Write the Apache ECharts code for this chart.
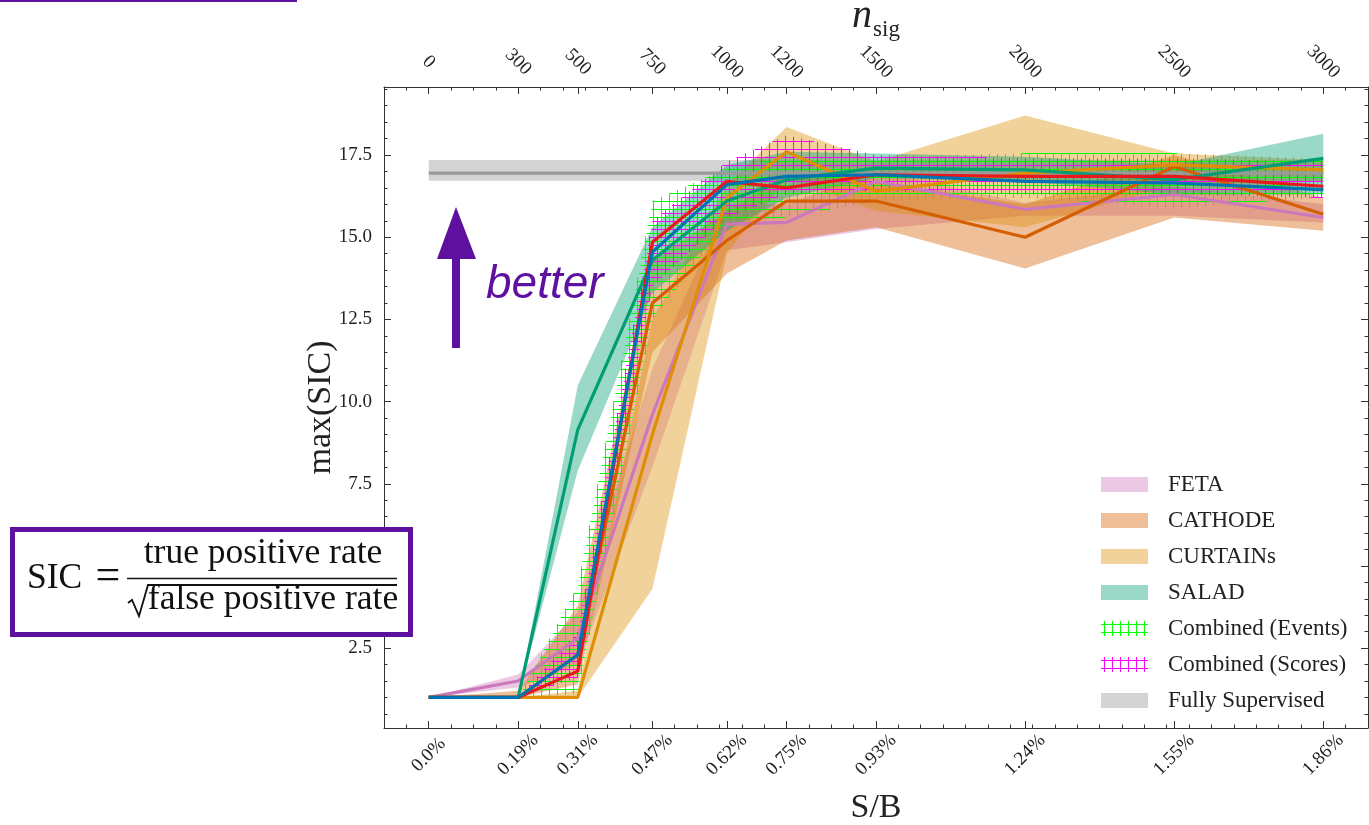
<!DOCTYPE html>
<html><head><meta charset="utf-8">
<script src="https://cdn.jsdelivr.net/npm/echarts@6/dist/echarts.min.js"></script>
<style>html,body{margin:0;padding:0;background:#fff}#c{width:1369px;height:825px}</style>
</head><body><div id="c"></div>
<script>
// ---------- data ----------
const nsig = [0, 300, 500, 750, 1000, 1200, 1500, 2000, 2500, 3000];
const sbLabels = ['0.0%', '0.19%', '0.31%', '0.47%', '0.62%', '0.75%', '0.93%', '1.24%', '1.55%', '1.86%'];
const yTicks = [2.5, 5.0, 7.5, 10.0, 12.5, 15.0, 17.5];
const yMinorTicks = [0.5, 1.0, 1.5, 2.0, 3.0, 3.5, 4.0, 4.5, 5.5, 6.0, 6.5, 7.0, 8.0, 8.5, 9.0, 9.5,
  10.5, 11.0, 11.5, 12.0, 13.0, 13.5, 14.0, 14.5, 15.5, 16.0, 16.5, 17.0, 18.0, 18.5, 19.0, 19.5];

const fetaMean = [1.0, 1.5, 2.8, 9.6, 15.4, 15.45, 16.7, 15.85, 16.3, 15.6];
const fetaLow  = [1.0, 1.3, 2.0, 8.0, 14.6, 14.85, 15.25, 15.65, 15.65, 15.45];
const fetaHigh = [1.0, 1.7, 3.6, 11.0, 16.0, 16.0, 17.0, 16.05, 16.55, 16.0];

const cathodeMean = [1.0, 1.0, 2.3, 13.0, 14.9, 16.1, 16.1, 15.0, 17.15, 15.7];
const cathodeLow  = [1.0, 1.0, 1.4, 11.5, 13.9, 14.9, 15.3, 14.05, 15.6, 15.2];
const cathodeHigh = [1.0, 1.2, 3.8, 14.3, 15.8, 16.9, 16.7, 16.0, 17.5, 16.2];

const curtainsMean = [1.0, 1.0, 1.0, 9.0, 16.2, 17.6, 16.4, 16.95, 17.2, 17.05];
const curtainsLow  = [1.0, 1.0, 1.0, 4.3, 14.5, 16.8, 15.8, 15.3, 16.6, 16.7];
const curtainsHigh = [1.0, 1.0, 1.2, 12.5, 16.6, 18.35, 17.3, 18.7, 17.55, 17.35];

const saladMean = [1.0, 1.0, 9.15, 14.3, 16.1, 16.75, 17.1, 17.05, 16.75, 17.4];
const saladLow  = [1.0, 1.0, 7.9, 13.3, 15.2, 16.2, 16.8, 16.7, 16.3, 16.3];
const saladHigh = [1.0, 1.0, 10.5, 15.3, 17.2, 17.6, 17.55, 17.45, 17.2, 18.15];

const eventsMean = [1.0, 1.0, 1.8, 14.85, 16.7, 16.5, 16.9, 16.85, 16.85, 16.55];
const eventsLow  = [1.0, 1.0, 1.1, 12.5, 15.4, 15.6, 16.1, 16.2, 15.9, 16.2];
const eventsHigh = [1.0, 1.0, 4.4, 16.1, 17.1, 17.45, 17.45, 17.55, 17.55, 17.4];

const scoresMean = [1.0, 1.0, 2.3, 14.55, 16.6, 16.85, 16.9, 16.7, 16.65, 16.45];
const scoresLow  = [1.0, 1.0, 1.6, 13.5, 15.6, 16.3, 16.4, 16.3, 16.3, 16.2];
const scoresHigh = [1.0, 1.0, 3.0, 15.5, 17.3, 18.1, 17.5, 17.4, 17.4, 17.3];

const fsX = [0, 3000];
const fsMean = [16.95, 16.95];
const fsLow = [16.72, 16.72];
const fsHigh = [17.35, 17.35];

// ---------- styling ----------
const SERIF = '"Liberation Serif", "DejaVu Serif", serif';
const PURPLE = '#5E109F';
const COL = {
  feta: '#CC78BC', cathode: '#D55E00', curtains: '#DE8F05', salad: '#029E73',
  events: '#E8191E', scores: '#0173B2', fs: '#9A9A9A'
};
function rgba(hex, a) {
  const n = parseInt(hex.slice(1), 16);
  return 'rgba(' + ((n >> 16) & 255) + ',' + ((n >> 8) & 255) + ',' + (n & 255) + ',' + a + ')';
}
const HATCH_EVENTS = '#00FF00';
const HATCH_SCORES = '#FF00FF';
const FS_FILL = 'rgba(160,160,160,0.45)';

const XMIN = -150, XMAX = 3150, YMIN = 0.07, YMAX = 19.57;
const GRID = { left: 384, top: 87, width: 984, height: 641 };
const HX = 8 * (XMAX - XMIN) / GRID.width;
const HY = 8 * (YMAX - YMIN) / GRID.height;

function hatchPattern(color) {
  const c = document.createElement('canvas');
  c.width = 8; c.height = 8;
  const g = c.getContext('2d');
  g.strokeStyle = color; g.lineWidth = 1;
  g.beginPath();
  g.moveTo(3.5, 0); g.lineTo(3.5, 8);
  g.moveTo(0, 3.5); g.lineTo(8, 3.5);
  g.stroke();
  return { image: c, repeat: 'repeat' };
}

function bandPoints(params, api) {
  const n = params.dataInsideLength;
  const top = [], bot = [];
  for (let i = 0; i < n; i++) {
    top.push(api.coord([api.value(0, i), api.value(2, i)]));
    bot.push(api.coord([api.value(0, i), api.value(1, i)]));
  }
  return top.concat(bot.reverse());
}
function band(name, xs, low, high, fill, z) {
  return {
    name, type: 'custom', coordinateSystem: 'cartesian2d', z,
    data: xs.map((x, i) => [x, low[i], high[i]]),
    encode: { x: 0, y: [1, 2] },
    renderItem: function (params, api) {
      if (params.dataIndexInside !== 0) return null;
      return { type: 'polygon', shape: { points: bandPoints(params, api) }, style: { fill: fill } };
    }
  };
}
function edgeAt(xs, ys, x) {
  for (let i = 0; i < xs.length - 1; i++) {
    if (x >= xs[i] && x <= xs[i + 1]) {
      const t = (x - xs[i]) / (xs[i + 1] - xs[i]);
      return ys[i] + t * (ys[i + 1] - ys[i]);
    }
  }
  return NaN;
}
function hatchBand(name, xs, low, high, color, phase, z) {
  const data = [];
  const gap = ['-', '-'];
  const x0 = xs[0], x1 = xs[xs.length - 1];
  for (let x = x0 + phase * HX; x <= x1; x += HX) {
    const lo = edgeAt(xs, low, x), hi = edgeAt(xs, high, x);
    if (hi - lo > 1e-6) { data.push([x, lo], [x, hi], gap); }
  }
  const yLo = Math.min.apply(null, low), yHi = Math.max.apply(null, high);
  const dx = 2;
  for (let y = Math.floor(yLo / HY) * HY + phase * HY; y <= yHi; y += HY) {
    let start = null, prev = null;
    for (let x = x0; x <= x1 + 1e-9; x += dx) {
      const inside = edgeAt(xs, low, x) <= y && y <= edgeAt(xs, high, x);
      if (inside && start === null) start = x;
      if (!inside && start !== null) { if (prev - start > 0) data.push([start, y], [prev, y], gap); start = null; }
      prev = x;
    }
    if (start !== null && prev - start > 0) data.push([start, y], [prev, y], gap);
  }
  return { name, type: 'line', data, symbol: 'none', connectNulls: false, z, silent: true,
    lineStyle: { color, width: 1 }, itemStyle: { color } };
}
function line(name, xs, vals, color, z) {
  return { name, type: 'line', data: xs.map((x, i) => [x, vals[i]]), symbol: 'none',
    lineStyle: { color, width: 3.2 }, itemStyle: { color }, z };
}

const series = [
  band('Fully Supervised', fsX, fsLow, fsHigh, FS_FILL, 1),
  band('FETA', nsig, fetaLow, fetaHigh, rgba(COL.feta, 0.4), 2),
  band('CATHODE', nsig, cathodeLow, cathodeHigh, rgba(COL.cathode, 0.4), 2),
  band('CURTAINs', nsig, curtainsLow, curtainsHigh, rgba(COL.curtains, 0.4), 2),
  band('SALAD', nsig, saladLow, saladHigh, rgba(COL.salad, 0.4), 2),
  hatchBand('Events band', nsig, eventsLow, eventsHigh, HATCH_EVENTS, 0.1, 3),
  hatchBand('Scores band', nsig, scoresLow, scoresHigh, HATCH_SCORES, 0.6, 3),
  line('Fully Supervised', fsX, fsMean, COL.fs, 4),
  line('FETA', nsig, fetaMean, COL.feta, 5),
  line('CATHODE', nsig, cathodeMean, COL.cathode, 5),
  line('CURTAINs', nsig, curtainsMean, COL.curtains, 5),
  line('SALAD', nsig, saladMean, COL.salad, 5),
  line('Combined (Events)', nsig, eventsMean, COL.events, 5),
  line('Combined (Scores)', nsig, scoresMean, COL.scores, 5)
];

const AX = '#333';
function minorX(pos) {
  return { type: 'value', position: pos, min: XMIN, max: XMAX, interval: 75,
    axisLine: { show: false, onZero: false }, axisTick: { show: true, inside: true, length: 3.5, lineStyle: { color: AX } },
    axisLabel: { show: false }, splitLine: { show: false } };
}
function minorY(pos) {
  return { type: 'value', position: pos, min: YMIN, max: YMAX,
    axisLine: { show: false, onZero: false },
    axisTick: { show: true, inside: true, length: 3.5, customValues: yMinorTicks, lineStyle: { color: AX } },
    axisLabel: { show: false }, splitLine: { show: false } };
}
const LBL = { fontFamily: SERIF, fontSize: 19, color: '#222' };

const option = {
  animation: false,
  grid: Object.assign({ containLabel: false, outerBoundsMode: 'none' }, GRID),
  xAxis: [
    { type: 'value', position: 'bottom', min: XMIN, max: XMAX,
      axisLine: { show: true, onZero: false, lineStyle: { color: AX, width: 1 } },
      axisTick: { show: true, inside: true, length: 7, customValues: nsig, lineStyle: { color: AX } },
      axisLabel: Object.assign({ customValues: nsig, formatter: v => sbLabels[nsig.indexOf(v)], rotate: 45,
        align: 'center', verticalAlign: 'middle', margin: 27 }, LBL),
      splitLine: { show: false },
      name: 'S/B', nameLocation: 'middle', nameGap: 63, nameMoveOverlap: false,
      nameTextStyle: { fontFamily: SERIF, fontSize: 34, color: '#222' } },
    minorX('bottom'),
    { type: 'value', position: 'top', min: XMIN, max: XMAX,
      axisLine: { show: true, onZero: false, lineStyle: { color: AX, width: 1 } },
      axisTick: { show: true, inside: true, length: 7, customValues: nsig, lineStyle: { color: AX } },
      axisLabel: Object.assign({ customValues: nsig, formatter: v => String(v), rotate: 45,
        align: 'center', verticalAlign: 'middle', margin: 25 }, LBL),
      splitLine: { show: false },
      name: '{n|n}{s|sig}', nameLocation: 'middle', nameGap: 46, nameMoveOverlap: false,
      nameTextStyle: { color: '#222', rich: {
        n: { fontFamily: SERIF, fontStyle: 'italic', fontSize: 40, verticalAlign: 'bottom', padding: [0, 1, 5, 0] },
        s: { fontFamily: SERIF, fontSize: 23, verticalAlign: 'bottom' } } } },
    minorX('top')
  ],
  yAxis: [
    { type: 'value', position: 'left', min: YMIN, max: YMAX,
      axisLine: { show: true, onZero: false, lineStyle: { color: AX, width: 1 } },
      axisTick: { show: true, inside: true, length: 7, customValues: yTicks, lineStyle: { color: AX } },
      axisLabel: Object.assign({ customValues: yTicks, formatter: v => v.toFixed(1), margin: 12 }, LBL),
      splitLine: { show: false },
      name: 'max(SIC)', nameLocation: 'middle', nameGap: 46, nameRotate: 90, nameMoveOverlap: false,
      nameTextStyle: { fontFamily: SERIF, fontSize: 34, color: '#222' } },
    minorY('left'),
    { type: 'value', position: 'right', min: YMIN, max: YMAX,
      axisLine: { show: true, onZero: false, lineStyle: { color: AX, width: 1 } },
      axisTick: { show: true, inside: true, length: 7, customValues: yTicks, lineStyle: { color: AX } },
      axisLabel: { show: false }, splitLine: { show: false } },
    minorY('right')
  ],
  legend: {
    orient: 'vertical', left: 1101, top: 473, padding: 0, itemWidth: 47, itemHeight: 15, itemGap: 13,
    icon: 'rect', selectedMode: false,
    textStyle: { fontFamily: SERIF, fontSize: 23, color: '#222', padding: [0, 0, 0, 15] },
    data: [
      { name: 'FETA', itemStyle: { color: rgba(COL.feta, 0.4), opacity: 1, borderWidth: 0 } },
      { name: 'CATHODE', itemStyle: { color: rgba(COL.cathode, 0.4), opacity: 1, borderWidth: 0 } },
      { name: 'CURTAINs', itemStyle: { color: rgba(COL.curtains, 0.4), opacity: 1, borderWidth: 0 } },
      { name: 'SALAD', itemStyle: { color: rgba(COL.salad, 0.4), opacity: 1, borderWidth: 0 } },
      { name: 'Combined (Events)', itemStyle: { color: hatchPattern(HATCH_EVENTS), opacity: 1, borderWidth: 0 } },
      { name: 'Combined (Scores)', itemStyle: { color: hatchPattern(HATCH_SCORES), opacity: 1, borderWidth: 0 } },
      { name: 'Fully Supervised', itemStyle: { color: FS_FILL, opacity: 1, borderWidth: 0 } }
    ]
  },
  graphic: [
    { type: 'rect', z: 100, shape: { x: 0, y: 0, width: 297, height: 2 }, style: { fill: PURPLE } },
    { type: 'rect', z: 100, shape: { x: 452, y: 255, width: 8, height: 93 }, style: { fill: PURPLE } },
    { type: 'polygon', z: 100, shape: { points: [[456, 207], [437, 259], [476, 259]] }, style: { fill: PURPLE } },
    { type: 'text', z: 100, x: 486, y: 285, style: { text: 'better', font: 'italic 46px "Liberation Sans", Arimo, sans-serif',
      fill: PURPLE, align: 'left', verticalAlign: 'middle' } },
    { type: 'rect', z: 100, shape: { x: 12.5, y: 529.5, width: 398, height: 105 },
      style: { fill: '#fff', stroke: PURPLE, lineWidth: 5 } },
    { type: 'text', z: 101, x: 27, y: 579, style: { text: 'SIC', font: '35.5px ' + SERIF, fill: '#111', align: 'left', verticalAlign: 'middle' } },
    { type: 'text', z: 101, x: 108, y: 577, style: { text: '=', font: '44px ' + SERIF, fill: '#111', align: 'center', verticalAlign: 'middle' } },
    { type: 'text', z: 101, x: 263, y: 554, style: { text: 'true positive rate', font: '35.5px ' + SERIF, fill: '#111', align: 'center', verticalAlign: 'middle' } },
    { type: 'line', z: 101, shape: { x1: 127, y1: 578.5, x2: 397, y2: 578.5 }, style: { stroke: '#111', lineWidth: 1.6 } },
    { type: 'polyline', z: 101, shape: { points: [[128, 603], [132, 600], [139, 616], [148, 585], [397, 585]] },
      style: { stroke: '#111', lineWidth: 1.8, fill: null } },
    { type: 'text', z: 101, x: 273, y: 600, style: { text: 'false positive rate', font: '35.5px ' + SERIF, fill: '#111', align: 'center', verticalAlign: 'middle' } }
  ],
  series
};

const chart = echarts.init(document.getElementById('c'), null, { renderer: 'canvas' });
chart.setOption(option);
</script>
</body></html>
